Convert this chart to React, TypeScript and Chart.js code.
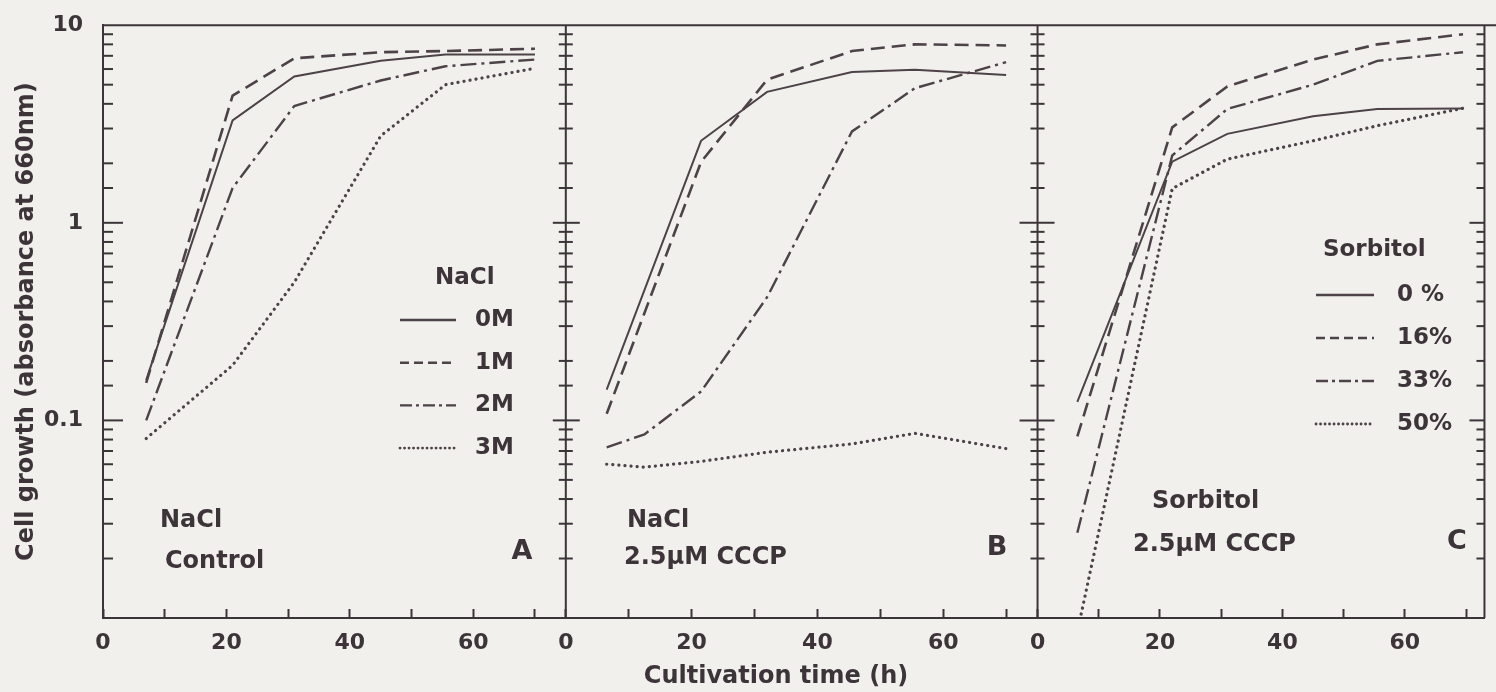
import React, { useEffect, useRef } from 'react';
import { Chart, registerables } from 'chart.js';

Chart.register(...registerables);

const W = 1496;
const H = 692;
const INK = '#3d3439';
const LINE = '#4c4247';
const BG = '#f1f0ec';
const FONT = "'DejaVu Sans', 'Liberation Sans', sans-serif";

// ---- Panel A : NaCl, control ----
const timeA = [7, 21, 31, 45, 55.5, 70];
const naclA_0M = [0.16, 3.3, 5.5, 6.6, 7.1, 7.1];
const naclA_1M = [0.155, 4.4, 6.8, 7.3, 7.4, 7.6];
const naclA_2M = [0.1, 1.5, 3.9, 5.25, 6.2, 6.7];
const naclA_3M = [0.081, 0.19, 0.5, 2.75, 5.0, 6.05];

// ---- Panel B : NaCl, 2.5 uM CCCP ----
const timeB = [6.5, 12.5, 21.5, 32, 45.5, 55.5, 70];
const naclB_0M = [0.143, null, 2.6, 4.6, 5.8, 5.95, 5.6];
const naclB_1M = [0.108, null, 2.03, 5.3, 7.4, 8.0, 7.9];
const naclB_2M = [0.073, 0.085, 0.14, 0.42, 2.9, 4.8, 6.5];
const naclB_3M = [0.06, 0.058, 0.062, 0.069, 0.076, 0.086, 0.072];

// ---- Panel C : Sorbitol, 2.5 uM CCCP ----
const timeC = [6.5, 22, 31, 45, 55.5, 69.5];
const sorbC_0 = [0.124, 2.04, 2.82, 3.46, 3.77, 3.79];
const sorbC_16 = [0.083, 3.04, 4.9, 6.7, 8.0, 9.0];
const sorbC_33 = [0.027, 2.19, 3.77, 5.0, 6.6, 7.3];
const sorbC_50 = [0.0085, 1.49, 2.1, 2.6, 3.1, 3.8];

// ---- axes ----
const yLabelValues = [10, 1, 0.1];
const xLabelValues = [0, 20, 40, 60];
const naclLegend = ['0M', '1M', '2M', '3M'];
const sorbitolLegend = ['0 %', '16%', '33%', '50%'];

type Style = { dash: number[]; width: number; cap: CanvasLineCap };
const STYLES: Style[] = [
  { dash: [], width: 2, cap: 'butt' },
  { dash: [14, 7], width: 2.6, cap: 'butt' },
  { dash: [16, 5, 3, 5], width: 2.4, cap: 'butt' },
  { dash: [0.1, 6], width: 3.2, cap: 'round' },
];
const LEGEND_DASH: number[][] = [[], [9, 5], [12, 4, 3, 4], [0.1, 4.4]];

function ds(label: string, axis: string, times: number[], vals: (number | null)[], s: number) {
  const st = STYLES[s];
  return {
    label,
    xAxisID: axis,
    yAxisID: 'y',
    data: times.map((t, i) => ({ x: t, y: vals[i] })),
    borderColor: LINE,
    borderWidth: st.width,
    borderDash: st.dash,
    borderCapStyle: st.cap,
    pointRadius: 0,
    pointHoverRadius: 0,
    fill: false,
    tension: 0,
    spanGaps: true,
  };
}

function xScale(weight: number, max: number) {
  return {
    type: 'linear',
    position: 'bottom',
    stack: 'time',
    stackWeight: weight,
    min: 0,
    max,
    offset: false,
    grid: {
      display: true,
      drawOnChartArea: false,
      drawTicks: true,
      tickLength: -9,
      tickWidth: 2,
      tickColor: INK,
      color: INK,
    },
    border: { display: true, width: 2, color: INK },
    ticks: {
      stepSize: 10,
      includeBounds: false,
      autoSkip: false,
      maxRotation: 0,
      padding: 21,
      color: INK,
      font: { family: FONT, size: 22, weight: 'bold' },
      callback: (v: any) => (xLabelValues.includes(Number(v)) ? String(v) : ''),
    },
    afterFit: (s: any) => {
      s.height = 74;
    },
  };
}

const isDecade = (v: number) => {
  const l = Math.log10(v);
  return Math.abs(l - Math.round(l)) < 1e-6;
};

const decor = {
  id: 'decor',
  afterDraw(chart: any) {
    const ctx: CanvasRenderingContext2D = chart.ctx;
    const y = chart.scales.y;
    const xa = chart.scales.xA;
    const xb = chart.scales.xB;
    const xc = chart.scales.xC;
    const { top, bottom } = chart.chartArea;
    const seg = (x1: number, y1: number, x2: number, y2: number) => {
      ctx.beginPath();
      ctx.moveTo(x1, y1);
      ctx.lineTo(x2, y2);
      ctx.stroke();
    };
    ctx.save();
    ctx.strokeStyle = INK;
    ctx.lineWidth = 2;
    ctx.setLineDash([]);
    ctx.lineCap = 'butt';
    // top frame
    seg(xa.left - 1, top, W, top);
    // inner + right axes
    [xb.left, xc.left, xc.right].forEach((px) => seg(px, top, px, bottom));
    // y tick marks on all vertical axes
    y.ticks.forEach((t: any) => {
      const v = t.value;
      const py = y.getPixelForValue(v);
      if (py < top + 2 || py > bottom - 2) return;
      const major = isDecade(v);
      // A: inward
      seg(xa.left, py, xa.left + (major ? 20 : 10), py);
      // B: crossing
      seg(xb.left - (major ? 13 : 7), py, xb.left + (major ? 14 : 7), py);
      // C: crossing
      seg(xc.left - (major ? 18 : 7), py, xc.left + (major ? 17 : 7), py);
      // right: inward
      seg(xc.right - (major ? 15 : 8), py, xc.right, py);
    });

    ctx.fillStyle = INK;
    ctx.textBaseline = 'middle';
    ctx.textAlign = 'left';
    const txt = (s: string, x: number, yy: number, size = 24, align: CanvasTextAlign = 'left') => {
      ctx.font = `bold ${size}px ${FONT}`;
      ctx.textAlign = align;
      ctx.fillText(s, x, yy);
    };
    // panel annotations
    txt('NaCl', 160, 521);
    txt('Control', 165, 562);
    txt('A', 522, 552, 27, 'center');
    txt('NaCl', 627, 521);
    txt('2.5\u03bcM CCCP', 624, 558);
    txt('B', 997, 548, 27, 'center');
    txt('Sorbitol', 1152, 502);
    txt('2.5\u03bcM CCCP', 1133, 545);
    txt('C', 1457, 542, 27, 'center');

    // legends
    const legend = (title: string, labels: string[], tx: number, ty: number, sx1: number, sx2: number, lx: number, y0: number, dy: number) => {
      txt(title, tx, ty, 23);
      labels.forEach((lab, i) => {
        const yy = y0 + i * dy;
        ctx.save();
        ctx.strokeStyle = LINE;
        ctx.lineWidth = i === 3 ? 2.8 : 2.4;
        ctx.lineCap = i === 3 ? 'round' : 'butt';
        ctx.setLineDash(LEGEND_DASH[i]);
        seg(sx1, yy, sx2, yy);
        ctx.restore();
        txt(lab, lx, yy, 23);
      });
    };
    legend('NaCl', naclLegend, 435, 278, 400, 456, 475, 320, 42.7);
    legend('Sorbitol', sorbitolLegend, 1323, 250, 1316, 1374, 1397, 295, 43);

    // x title
    txt('Cultivation time (h)', 776, 677, 24, 'center');
    ctx.restore();
  },
};

export default function App() {
  const ref = useRef<HTMLCanvasElement | null>(null);
  useEffect(() => {
    if (!ref.current) return;
    const chart = new Chart(ref.current, {
      type: 'line',
      data: {
        datasets: [
          ds('0M', 'xA', timeA, naclA_0M, 0),
          ds('1M', 'xA', timeA, naclA_1M, 1),
          ds('2M', 'xA', timeA, naclA_2M, 2),
          ds('3M', 'xA', timeA, naclA_3M, 3),
          ds('0M', 'xB', timeB, naclB_0M, 0),
          ds('1M', 'xB', timeB, naclB_1M, 1),
          ds('2M', 'xB', timeB, naclB_2M, 2),
          ds('3M', 'xB', timeB, naclB_3M, 3),
          ds('0 %', 'xC', timeC, sorbC_0, 0),
          ds('16%', 'xC', timeC, sorbC_16, 1),
          ds('33%', 'xC', timeC, sorbC_33, 2),
          ds('50%', 'xC', timeC, sorbC_50, 3),
        ] as any,
      },
      options: {
        responsive: false,
        animation: false,
        events: [],
        layout: { padding: { top: 22, right: 2, left: 0, bottom: 0 } },
        plugins: { legend: { display: false }, tooltip: { enabled: false }, title: { display: false } },
        scales: {
          xA: xScale(466, 75),
          xB: xScale(475, 75),
          xC: xScale(450, 73),
          y: {
            type: 'logarithmic',
            position: 'left',
            min: 0.01,
            max: 10,
            grid: { display: false },
            border: { display: true, width: 2, color: INK },
            ticks: {
              autoSkip: false,
              padding: 12,
              color: INK,
              font: { family: FONT, size: 22, weight: 'bold' },
              callback: (v: any) => {
                const n = Number(v);
                const hit = yLabelValues.find((lv) => Math.abs(n - lv) / lv < 1e-6);
                return hit !== undefined ? String(hit) : '';
              },
            },
            title: {
              display: true,
              text: 'Cell growth (absorbance at 660nm)',
              color: INK,
              font: { family: FONT, size: 24, weight: 'bold' },
              padding: { top: 12, bottom: 0 },
            },
            afterFit: (s: any) => {
              s.width = 103;
            },
          },
        } as any,
      },
      plugins: [decor],
    });
    return () => chart.destroy();
  }, []);
  return (
    <div style={{ position: 'fixed', left: 0, top: 0, width: W, height: H, background: BG }}>
      <canvas ref={ref} width={W} height={H} style={{ display: 'block' }} />
    </div>
  );
}
